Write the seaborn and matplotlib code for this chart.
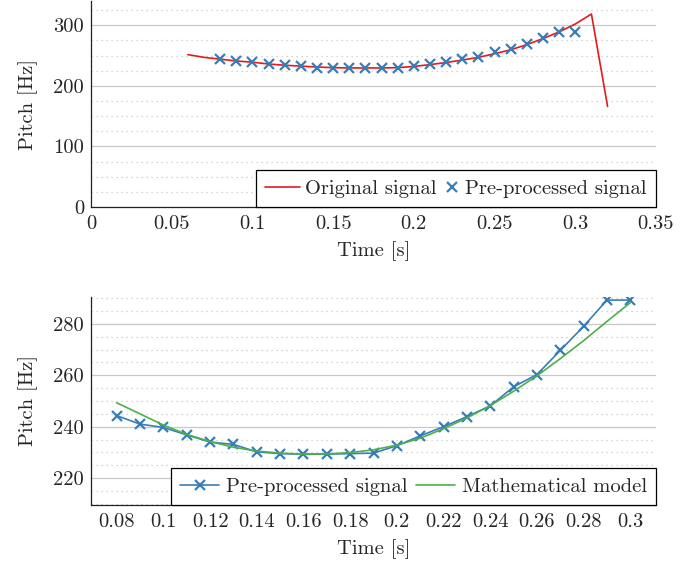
"""Pitch curves: original vs pre-processed signal, and the fitted model."""
import numpy as np
import pandas as pd
import matplotlib
matplotlib.use("Agg")
import matplotlib.pyplot as plt
from matplotlib.ticker import MultipleLocator, FuncFormatter
from matplotlib.legend_handler import HandlerLine2D
import seaborn as sns

# original pitch track (red)
orig_time = [0.06, 0.07, 0.08, 0.09, 0.10, 0.11, 0.12, 0.13, 0.14, 0.15, 0.16, 0.17, 0.18,
             0.19, 0.20, 0.21, 0.22, 0.23, 0.24, 0.25, 0.26, 0.27, 0.28, 0.29, 0.30, 0.31, 0.32]
orig_pitch = [251.5, 247.0, 244.0, 241.0, 239.0, 236.0, 234.0, 232.5, 231.0, 230.0, 229.5, 229.5,
              229.5, 230.0, 232.0, 235.0, 238.5, 242.5, 247.0, 253.0, 259.5, 268.0, 278.0, 289.0,
              302.0, 318.5, 166.0]

# pre-processed pitch samples (blue)
pre_time = [0.08, 0.09, 0.10, 0.11, 0.12, 0.13, 0.14, 0.15, 0.16, 0.17, 0.18, 0.19,
            0.20, 0.21, 0.22, 0.23, 0.24, 0.25, 0.26, 0.27, 0.28, 0.29, 0.30]
pre_pitch = [244.3, 241.0, 239.7, 236.8, 234.0, 233.1, 230.2, 229.5, 229.3, 229.3, 229.5, 229.7,
             232.6, 236.4, 240.0, 243.9, 248.1, 255.5, 260.3, 269.7, 279.1, 289.3, 289.3]

# mathematical model (green)
model_time = pre_time
model_pitch = [249.3, 245.0, 240.6, 237.0, 234.2, 232.0, 230.5, 229.7, 229.3, 229.4, 229.9, 231.0,
               232.8, 235.5, 239.2, 243.4, 248.2, 253.8, 259.8, 266.5, 273.5, 281.0, 288.3]

RED = "#e41a1c"
BLUE = "#377eb8"
GREEN = "#4daf4a"
FS = 14.8

sns.set_style("white")
plt.rcParams["font.family"] = "serif"
plt.rcParams["font.serif"] = ["cmr10", "DejaVu Serif"]
plt.rcParams["mathtext.fontset"] = "cm"
plt.rcParams["axes.formatter.use_mathtext"] = True
plt.rcParams["font.size"] = FS

orig_df = pd.DataFrame({"time": orig_time, "pitch": orig_pitch})
pre_df = pd.DataFrame({"time": pre_time, "pitch": pre_pitch})
model_df = pd.DataFrame({"time": model_time, "pitch": model_pitch})


class RightMarker(HandlerLine2D):
    # lone marker sits at the right end of its handle box (pgfplots look)
    def get_xdata(self, legend, xdescent, ydescent, width, height, fontsize):
        right = -xdescent + width
        return [right - 12, right], [right - 6]


fig = plt.figure(figsize=(6.95, 5.66), dpi=100)
ax1 = fig.add_axes([91 / 695, 1 - 207 / 566, 565 / 695, 206 / 566])
ax2 = fig.add_axes([91 / 695, 1 - 505 / 566, 565 / 695, 208 / 566])

fmt = FuncFormatter(lambda v, p: f"{v:g}")


def style_axes(ax, major, minor):
    for side in ("top", "right"):
        ax.spines[side].set_visible(False)
    for side in ("left", "bottom"):
        ax.spines[side].set_color("#222222")
        ax.spines[side].set_linewidth(0.9)
    ax.yaxis.set_major_locator(MultipleLocator(major))
    ax.yaxis.set_minor_locator(MultipleLocator(minor))
    ax.grid(axis="y", which="major", color="#c8c8c8", linewidth=0.9, linestyle="-")
    ax.grid(axis="y", which="minor", color="#c8c8c8", linewidth=0.9, linestyle=(0, (1, 3)))
    ax.grid(axis="x", visible=False)
    ax.set_axisbelow(True)
    ax.tick_params(axis="both", which="major", direction="in", length=4, width=0.8,
                   color="#555555", labelsize=FS)
    ax.tick_params(axis="x", which="major", pad=6)
    ax.tick_params(axis="y", which="major", pad=5)
    ax.tick_params(axis="y", which="minor", direction="in", length=2.5, width=0.6,
                   color="#555555")
    ax.xaxis.set_major_formatter(fmt)
    ax.yaxis.set_major_formatter(fmt)
    ax.set_xlabel("Time [s]", fontsize=FS, labelpad=6)
    ax.set_ylabel("Pitch [Hz]", fontsize=FS, labelpad=11)


# top panel
sns.lineplot(data=orig_df, x="time", y="pitch", ax=ax1, color=RED, linewidth=1.2,
             sort=False, label="Original signal")
sns.lineplot(data=pre_df, x="time", y="pitch", ax=ax1, color=BLUE, linestyle="none",
             marker="x", markersize=7.5, markeredgewidth=1.6, markeredgecolor=BLUE,
             sort=False, label="Pre-processed signal")
ax1.set_xlim(0, 0.35)
ax1.set_ylim(0, 340)
ax1.xaxis.set_major_locator(MultipleLocator(0.05))
style_axes(ax1, 100, 25)

# bottom panel
sns.lineplot(data=pre_df, x="time", y="pitch", ax=ax2, color=BLUE, linewidth=1.2,
             marker="x", markersize=7.5, markeredgewidth=1.6, markeredgecolor=BLUE,
             sort=False, label="Pre-processed signal")
sns.lineplot(data=model_df, x="time", y="pitch", ax=ax2, color=GREEN, linewidth=1.2,
             sort=False, label="Mathematical model")
ax2.set_xlim(0.069, 0.311)
ax2.set_ylim(209.5, 290.5)
ax2.xaxis.set_major_locator(MultipleLocator(0.02))
style_axes(ax2, 20, 5)

h1, l1 = ax1.get_legend_handles_labels()
leg1 = ax1.legend(h1, l1, loc="lower right", ncol=2, borderaxespad=0, fancybox=False,
                  edgecolor="black", framealpha=1, fontsize=FS, numpoints=1,
                  handlelength=1.7, handletextpad=0.25, columnspacing=-0.55,
                  borderpad=0.45, handler_map={h1[1]: RightMarker()})
leg1.get_frame().set_linewidth(0.9)

leg2 = ax2.legend(loc="lower right", ncol=2, borderaxespad=0, fancybox=False,
                  edgecolor="black", framealpha=1, fontsize=FS, numpoints=1,
                  handlelength=1.9, handletextpad=0.3, columnspacing=0.45,
                  borderpad=0.45)
leg2.get_frame().set_linewidth(0.9)

fig.savefig("out.png", dpi=100)
